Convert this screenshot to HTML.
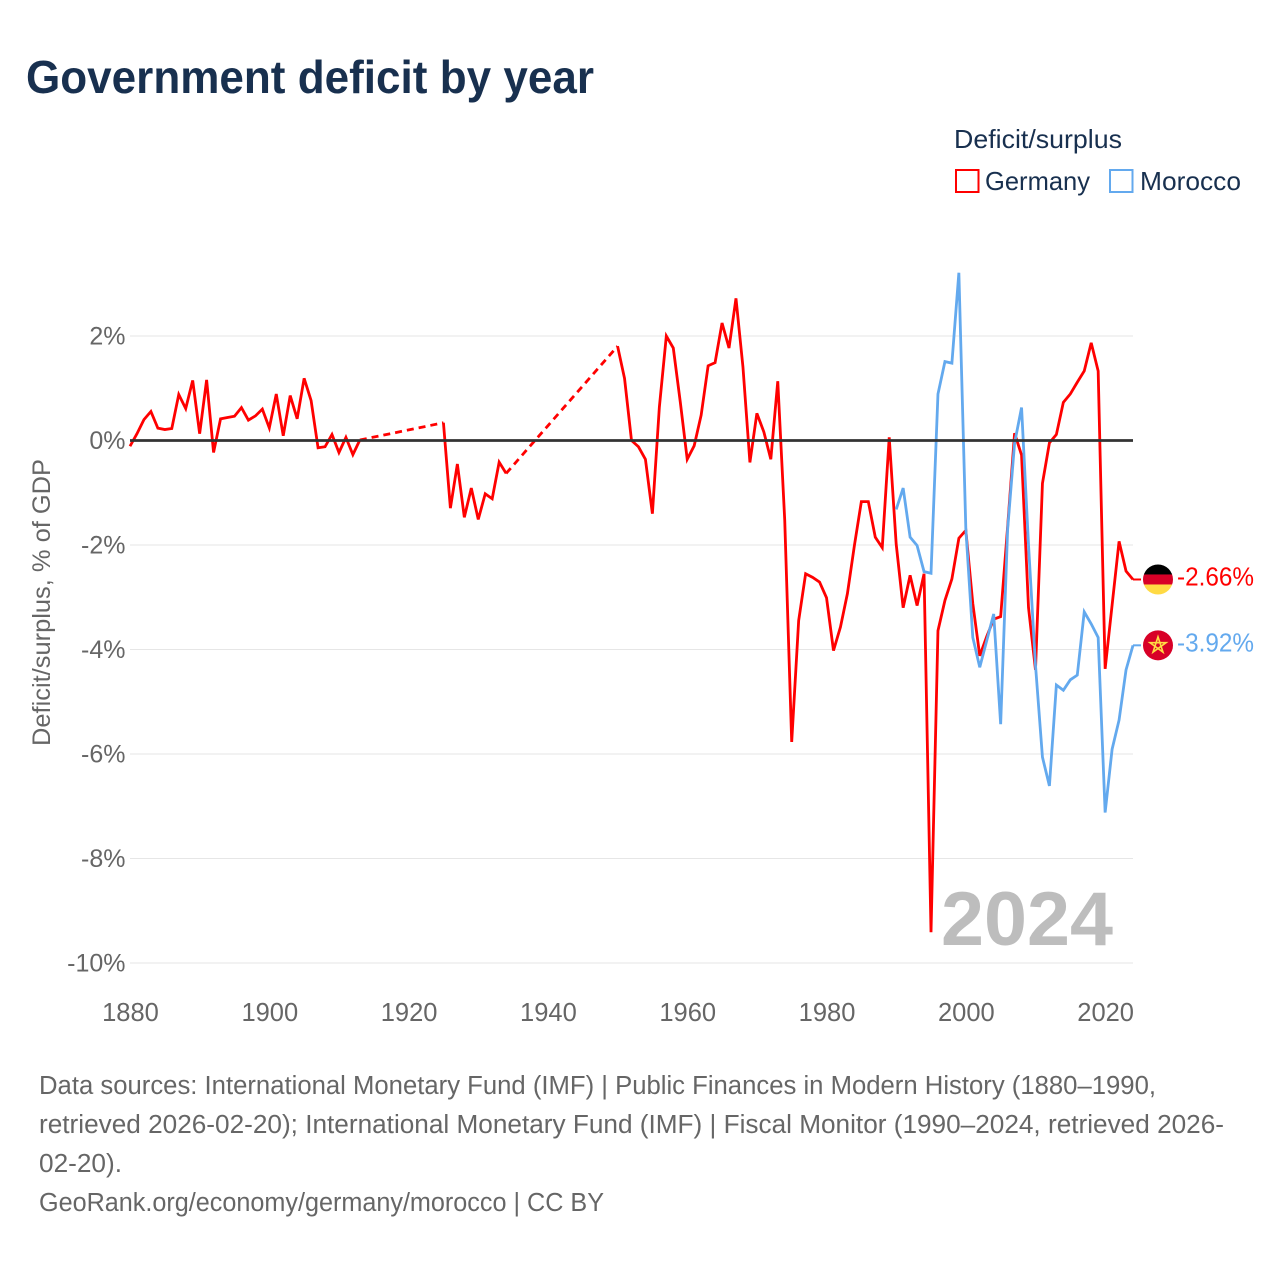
<!DOCTYPE html>
<html lang="en">
<head>
<meta charset="utf-8">
<title>Government deficit by year</title>
<style>
html,body{margin:0;padding:0;background:#fff;width:1280px;height:1280px;overflow:hidden}
svg{display:block}
text{font-family:"Liberation Sans",sans-serif}
</style>
</head>
<body>
<svg id="chart" xmlns="http://www.w3.org/2000/svg" width="1280" height="1280" viewBox="0 0 1280 1280">
  <rect width="1280" height="1280" fill="#fff"/>
  <text x="26" y="93" font-size="46" font-weight="700" fill="#18304f" textLength="568" lengthAdjust="spacingAndGlyphs">Government deficit by year</text>

  <g>
    <text x="954" y="148" font-size="26" fill="#18304f" textLength="168" lengthAdjust="spacingAndGlyphs">Deficit/surplus</text>
    <g>
      <rect x="956" y="170" width="22.5" height="22" fill="none" stroke="#ff0000" stroke-width="2"/>
      <text x="985" y="190" font-size="26" fill="#18304f" textLength="105" lengthAdjust="spacingAndGlyphs">Germany</text>
    </g>
    <g>
      <rect x="1110" y="170" width="22.5" height="22" fill="none" stroke="#63a9ee" stroke-width="2"/>
      <text x="1140" y="190" font-size="26" fill="#18304f" textLength="101" lengthAdjust="spacingAndGlyphs">Morocco</text>
    </g>
  </g>

  <g id="grid"></g>
  <g id="y-ticks"></g>
  <g id="x-ticks"></g>
  <text transform="translate(50,746) rotate(-90)" font-size="25" fill="#666" textLength="287" lengthAdjust="spacingAndGlyphs">Deficit/surplus, % of GDP</text>
  <text id="year-watermark" x="941" y="945" font-size="76" font-weight="700" fill="#bdbdbd" textLength="172" lengthAdjust="spacingAndGlyphs"></text>

  <g id="series"></g>
  <g id="zero"></g>

  <defs>
    <clipPath id="flag-clip-de"><circle id="clip-de" cx="1158" cy="579" r="15"/></clipPath>
  </defs>
  <g id="end-markers"></g>

  <g font-size="25.5" fill="#666">
    <text x="39" y="1094" textLength="1117" lengthAdjust="spacingAndGlyphs">Data sources: International Monetary Fund (IMF) | Public Finances in Modern History (1880–1990,</text>
    <text x="39" y="1133" textLength="1185" lengthAdjust="spacingAndGlyphs">retrieved 2026-02-20); International Monetary Fund (IMF) | Fiscal Monitor (1990–2024, retrieved 2026-</text>
    <text x="39" y="1172" textLength="83" lengthAdjust="spacingAndGlyphs">02-20).</text>
    <text x="39" y="1211" textLength="565" lengthAdjust="spacingAndGlyphs">GeoRank.org/economy/germany/morocco | CC BY</text>
  </g>
</svg>
<script>
var germanyStartYear = 1880;
var germanyValues = [
  -0.11,0.13,0.40,0.555,0.236,0.21,0.23,0.88,0.61,1.15,
  0.13,1.16,-0.23,0.415,0.44,0.465,0.63,0.39,0.47,0.60,
  0.24,0.89,0.09,0.86,0.415,1.19,0.765,-0.14,-0.12,0.115,
  -0.23,0.06,-0.27,0.01,null,null,null,null,null,null,
  null,null,null,null,null,0.34,-1.295,-0.45,-1.47,-0.91,
  -1.51,-1.02,-1.115,-0.415,-0.63,null,null,null,null,null,
  null,null,null,null,null,null,null,null,null,null,
  1.805,1.19,0.0,-0.12,-0.36,-1.40,0.64,2.0,1.77,0.74,
  -0.36,-0.10,0.485,1.43,1.49,2.25,1.77,2.72,1.41,-0.42,
  0.52,0.165,-0.36,1.135,-1.53,-5.77,-3.445,-2.55,-2.62,-2.71,
  -3.01,-4.02,-3.57,-2.93,-2.01,-1.17,-1.17,-1.85,-2.05,0.06,
  -1.98,-3.20,-2.58,-3.16,-2.55,-9.41,-3.64,-3.06,-2.65,-1.87,
  -1.72,-3.12,-4.12,-3.75,-3.42,-3.37,-1.65,0.14,-0.28,-3.2,
  -4.39,-0.82,-0.045,0.115,0.73,0.89,1.115,1.33,1.87,1.33,
  -4.37,-3.15,-1.93,-2.50,-2.66
];
var moroccoStartYear = 1990;
var moroccoValues = [
  -1.32,-0.91,-1.85,-2.01,-2.51,-2.54,0.89,1.51,1.48,3.21,
  -1.69,-3.77,-4.34,-3.83,-3.32,-5.43,-1.7,-0.05,0.63,-2.0,
  -4.3,-6.06,-6.61,-4.68,-4.78,-4.58,-4.49,-3.28,-3.51,-3.77,
  -7.12,-5.91,-5.35,-4.39,-3.92
];
var yTickValues = [2,0,-2,-4,-6,-8,-10];
var xTickValues = [1880,1900,1920,1940,1960,1980,2000,2020];

var NS = 'http://www.w3.org/2000/svg';
function xScale(year){ return 130 + (year - 1880) * (1003 / 144); }
function yScale(v){ return 440.5 - v * 52.25; }
function make(tag, attrs, parent){
  var el = document.createElementNS(NS, tag);
  for (var k in attrs) el.setAttribute(k, attrs[k]);
  parent.appendChild(el);
  return el;
}
var gridG = document.getElementById('grid');
var yG = document.getElementById('y-ticks');
var xG = document.getElementById('x-ticks');
var seriesG = document.getElementById('series');
var zeroG = document.getElementById('zero');
var endG = document.getElementById('end-markers');

yTickValues.forEach(function(v){
  var y = yScale(v);
  if (v !== 0) {
    var line = make('line', {x1:130, x2:1133, y1:y, y2:y, stroke:'#e6e6e6', 'stroke-width':1}, gridG);
    
    
  }
  var t = make('text', {x:125.5, y:y + 8.5, 'text-anchor':'end', 'font-size':25, fill:'#666'}, yG);
  
  
  t.textContent = v + '%';
});
xTickValues.forEach(function(yr){
  var t = make('text', {x:xScale(yr) + 0.5, y:1021, 'text-anchor':'middle', 'font-size':25.5, fill:'#666'}, xG);
  
  
  t.textContent = yr;
});
var zeroLine = make('line', {x1:130, x2:1133, y1:yScale(0), y2:yScale(0), stroke:'#333', 'stroke-width':2.8}, zeroG);



function drawSeries(values, startYear, color, name){
  var solid = '', dashed = '', prev = null, penDown = false;
  values.forEach(function(v, i){
    if (v === null) { penDown = false; return; }
    var px = xScale(startYear + i).toFixed(2) + ' ' + yScale(v).toFixed(2);
    if (prev !== null && prev.i < i - 1) dashed += 'M' + prev.p + 'L' + px;
    solid += (penDown ? 'L' : 'M') + px;
    penDown = true;
    prev = {i:i, p:px};
  });
  var g = make('g', {}, seriesG);
  
  
  if (dashed) {
    var d = make('path', {d:dashed, fill:'none', stroke:color, 'stroke-width':2.8, 'stroke-dasharray':'7 5'}, g);
    
    
  }
  var s = make('path', {d:solid, fill:'none', stroke:color, 'stroke-width':2.8, 'stroke-linejoin':'miter', 'stroke-miterlimit':4}, g);
  
  
}
drawSeries(germanyValues, germanyStartYear, '#ff0000', 'germany');
drawSeries(moroccoValues, moroccoStartYear, '#63a9ee', 'morocco');

document.getElementById('year-watermark').textContent = germanyStartYear + germanyValues.length - 1;

function endConnector(v, color, name){
  var y = yScale(v);
  var l = make('line', {x1:xScale(2024), x2:1141, y1:y, y2:y, stroke:color, 'stroke-width':2}, endG);
  
  
  var t = make('text', {x:1177, y:y + 6, 'font-size':25.5, fill:color, textLength:77, lengthAdjust:'spacingAndGlyphs'}, endG);
  
  
  t.textContent = v.toFixed(2) + '%';
}
var deLast = germanyValues[germanyValues.length - 1];
var maLast = moroccoValues[moroccoValues.length - 1];
endConnector(deLast, '#ff0000', 'germany');
endConnector(maLast, '#63a9ee', 'morocco');

var deY = yScale(deLast);
var clipC = document.getElementById('clip-de');
clipC.setAttribute('cy', deY);
var deFlag = make('g', {'clip-path':'url(#flag-clip-de)'}, endG);


make('rect', {x:1143, y:deY - 15, width:30, height:10, fill:'#000'}, deFlag);
make('rect', {x:1143, y:deY - 5, width:30, height:10, fill:'#d80027'}, deFlag);
make('rect', {x:1143, y:deY + 5, width:30, height:10, fill:'#ffda44'}, deFlag);

var maY = yScale(maLast);
var maFlag = make('g', {}, endG);


make('circle', {cx:1158, cy:maY, r:15, fill:'#d80027'}, maFlag);
var pts = [];
for (var i = 0; i < 5; i++) {
  var a = -Math.PI / 2 + i * 4 * Math.PI / 5;
  pts.push((1158 + 8.5 * Math.cos(a)).toFixed(2) + ',' + (maY + 8.5 * Math.sin(a)).toFixed(2));
}
make('polygon', {points:pts.join(' '), fill:'none', stroke:'#ffda44', 'stroke-width':1.6, 'stroke-linejoin':'miter'}, maFlag);
</script>
</body>
</html>
